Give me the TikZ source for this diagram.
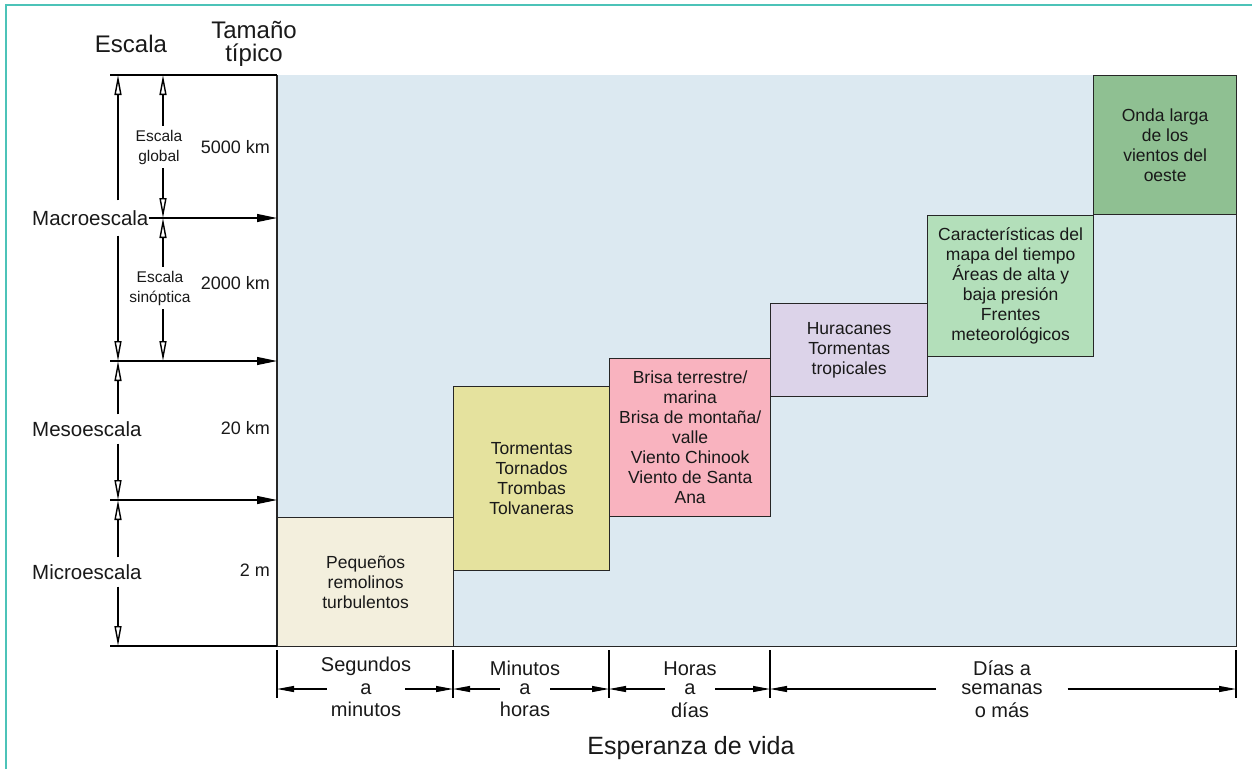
\documentclass[tikz,border=0pt]{standalone}
\usepackage{fontspec}
\setmainfont{Liberation Sans}
\usetikzlibrary{arrows.meta,positioning}

\definecolor{skyfill}{HTML}{DCE9F1}
\definecolor{creamfill}{HTML}{F3EFDD}
\definecolor{olivefill}{HTML}{E5E29E}
\definecolor{pinkfill}{HTML}{F9B3BF}
\definecolor{lavfill}{HTML}{DCD3E9}
\definecolor{mintfill}{HTML}{B3DFBA}
\definecolor{leaffill}{HTML}{8FC092}
\definecolor{framecol}{HTML}{4CC3B8}

\newcommand{\chartfont}{\fontsize{17.5}{20}\selectfont}
\newcommand{\headfont}{\fontsize{24}{23}\selectfont}
\newcommand{\scalefont}{\fontsize{20.5}{24}\selectfont}
\newcommand{\sizefont}{\fontsize{18}{20}\selectfont}
\newcommand{\smallscalefont}{\fontsize{15.5}{20}\selectfont}
\newcommand{\axisfont}{\fontsize{20}{22.5}\selectfont}

\begin{document}
\begin{tikzpicture}[x=1pt, y=-1pt,
    every node/.style={inner sep=0pt, align=center, text=black!90},
    chartbox/.style={draw=black!85, line width=1.3pt, anchor=north west, font=\chartfont},
    scalelabel/.style={anchor=west, font=\scalefont, inner ysep=6pt},
    sizelabel/.style={anchor=east, font=\sizefont},
    dimarrow/.style={line width=1.1pt, -{Triangle[open, length=20pt, width=7pt, line width=1.4pt]}},
    ptarrow/.style={line width=1.1pt, -{Triangle[length=20pt, width=8pt]}},
    axisarrow/.style={line width=1.1pt, -{Triangle[length=17pt, width=6pt]}},
    axismid/.style={font=\axisfont, minimum height=18pt}
]
    \useasboundingbox (0,0) rectangle (1252,769);
    \draw [framecol, line width=2pt] (6,769) -- (6,5) -- (1252,5);

    % chart background
    \node [fill=skyfill, anchor=north west, minimum width=959pt, minimum height=571pt] (sky) at (277,75) {};

    % phenomena boxes
    \node [chartbox, fill=creamfill, minimum width=176pt, minimum height=129pt] (eddies) at (277,517) {Pequeños\\remolinos\\turbulentos};
    \node [chartbox, fill=olivefill, minimum width=156pt, minimum height=184pt] (storms) at (453,386) {Tormentas\\Tornados\\Trombas\\Tolvaneras};
    \node [chartbox, fill=pinkfill, minimum width=161pt, minimum height=158pt] (breeze) at (609,358) {Brisa terrestre/\\marina\\Brisa de montaña/\\valle\\Viento Chinook\\Viento de Santa\\Ana};
    \node [chartbox, fill=lavfill, minimum width=157pt, minimum height=93pt] (hurr) at (770,303) {Huracanes\\Tormentas\\tropicales};
    \node [chartbox, fill=mintfill, minimum width=166pt, minimum height=141pt] (synmap) at (927,215) {Características del\\mapa del tiempo\\Áreas de alta y\\baja presión\\Frentes\\meteorológicos};
    \node [chartbox, fill=leaffill, minimum width=143pt, minimum height=139pt] (longwave) at (1093,75) {Onda larga\\de los\\vientos del\\oeste};

    \draw [black!85, line width=1.3pt] (sky.north west) -- (sky.south west) -- (sky.south east) -- (sky.north east);

    % headings
    \node [font=\headfont] (hscale) at (131,44) {Escala};
    \node [font=\headfont] (hsize) at (254,44) {Tamaño\\típico};

    % left scale
    \coordinate (l0) at (110,75);
    \coordinate (l1) at (110,361);
    \coordinate (l2) at (110,500);
    \coordinate (l3) at (110,646);
    \coordinate (a0) at (118,75);
    \coordinate (a1) at (118,361);
    \coordinate (a2) at (118,500);
    \coordinate (a3) at (118,646);
    \coordinate (b0) at (163,75);
    \coordinate (b1) at (163,218);
    \coordinate (b2) at (163,361);

    \node [scalelabel, inner ysep=10pt] (macro) at (32,218) {Macroescala};
    \node [scalelabel, inner ysep=7pt] (meso) at (32,429) {Mesoescala};
    \node [scalelabel, inner ysep=7pt] (micro) at (32,572) {Microescala};

    \node [font=\smallscalefont, inner ysep=4pt] (global) at (159,147) {Escala\\global};
    \node [font=\smallscalefont, inner ysep=4pt] (synop) at (160,288) {Escala\\sinóptica};

    \node [sizelabel] (s5000) at (270,147) {5000 km};
    \node [sizelabel] (s2000) at (270,283) {2000 km};
    \node [sizelabel] (s20) at (270,428) {20 km};
    \node [sizelabel] (s2) at (270,570) {2 m};

    \draw [line width=1.1pt] (l0) -- (l0 -| sky.west);
    \draw [line width=1.1pt] (l3) -- (l3 -| sky.west);
    \draw [ptarrow] (macro.east) -- (macro.east -| sky.west);
    \draw [ptarrow] (l1) -- (l1 -| sky.west);
    \draw [ptarrow] (l2) -- (l2 -| sky.west);

    \draw [dimarrow] (a0 |- macro.north) -- (a0);
    \draw [dimarrow] (a0 |- macro.south) -- (a1);
    \draw [dimarrow] (a1 |- meso.north) -- (a1);
    \draw [dimarrow] (a1 |- meso.south) -- (a2);
    \draw [dimarrow] (a2 |- micro.north) -- (a2);
    \draw [dimarrow] (a2 |- micro.south) -- (a3);

    \draw [dimarrow] (b0 |- global.north) -- (b0);
    \draw [dimarrow] (b0 |- global.south) -- (b1);
    \draw [dimarrow] (b1 |- synop.north) -- (b1);
    \draw [dimarrow] (b1 |- synop.south) -- (b2);

    % time axis
    \foreach \x in {277,453,609,770,1236} {
        \draw [line width=1.1pt] (\x,650) -- (\x,698);
    }
    \coordinate (t0) at (277,689);
    \coordinate (t1) at (453,689);
    \coordinate (t2) at (609,689);
    \coordinate (t3) at (770,689);
    \coordinate (t4) at (1236,689);

    \node [axismid, minimum width=78pt] (secmid) at (366,689) {a};
    \node [axismid, minimum width=50pt] (minmid) at (525,689) {a};
    \node [axismid, minimum width=50pt] (hrmid) at (690,689) {a};
    \node [axismid, minimum width=131pt] (daymid) at (1002,689) {semanas};
    \node [font=\axisfont, above=4pt of secmid] (sectop) {Segundos};
    \node [font=\axisfont, below=4pt of secmid] (secbot) {minutos};
    \node [font=\axisfont, above=4pt of minmid] (mintop) {Minutos};
    \node [font=\axisfont, below=4pt of minmid] (minbot) {horas};
    \node [font=\axisfont, above=4pt of hrmid] (hrtop) {Horas};
    \node [font=\axisfont, below=4pt of hrmid] (hrbot) {días};
    \node [font=\axisfont, above=4pt of daymid] (daytop) {Días a};
    \node [font=\axisfont, below=4pt of daymid] (daybot) {o más};

    \draw [axisarrow] (secmid.west) -- (t0);
    \draw [axisarrow] (secmid.east) -- (t1);
    \draw [axisarrow] (minmid.west) -- (t1);
    \draw [axisarrow] (minmid.east) -- (t2);
    \draw [axisarrow] (hrmid.west) -- (t2);
    \draw [axisarrow] (hrmid.east) -- (t3);
    \draw [axisarrow] (daymid.west) -- (t3);
    \draw [axisarrow] (daymid.east) -- (t4);

    \node [font=\fontsize{25}{28}\selectfont] (lifespan) at (691,748) {Esperanza de vida};
\end{tikzpicture}
\end{document}
